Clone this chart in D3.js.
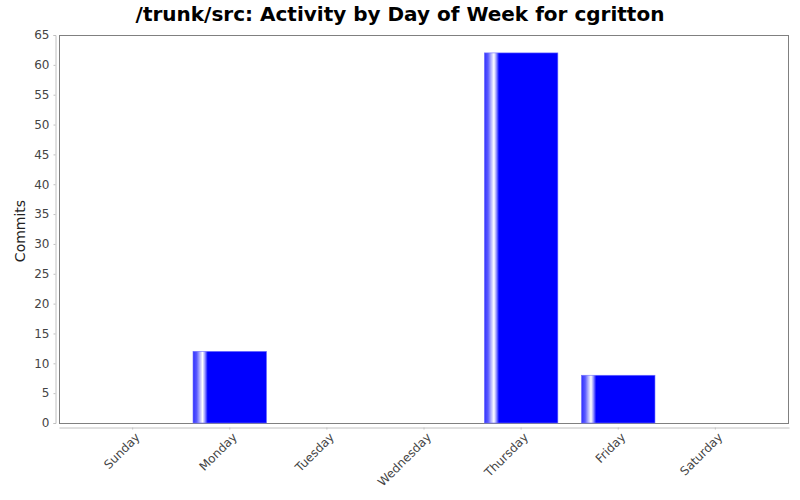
<!DOCTYPE html>
<html>
<head>
<meta charset="utf-8">
<script src="https://cdn.jsdelivr.net/npm/d3@7"></script>
<style>
  body { margin: 0; background: #fff; }
  svg { display: block; }
</style>
</head>
<body>
<script>
const days = ["Sunday", "Monday", "Tuesday", "Wednesday", "Thursday", "Friday", "Saturday"]
const commits = [0, 12, 0, 0, 62, 8, 0]
const yTicks = [0, 5, 10, 15, 20, 25, 30, 35, 40, 45, 50, 55, 60, 65]

const w = 800
const h = 500
const plot = { left: 59, right: 789, top: 35, bottom: 423 }

const svg = d3.select("body")
  .append("svg")
  .attr("width", w)
  .attr("height", h)

// gradient like the java chart bars
const grad = svg.append("defs")
  .append("linearGradient")
  .attr("id", "barGrad")
  .attr("x1", "0%").attr("x2", "100%")
  .attr("y1", "0%").attr("y2", "0%")
const stops = [[0, "#3030ff"], [0.05, "#5a5aff"], [0.09, "#b0b0ff"], [0.13, "#ffffff"], [0.16, "#a0a0ff"], [0.2, "#0000ff"], [1, "#0000ff"]]
stops.forEach(s => grad.append("stop").attr("offset", s[0]).attr("stop-color", s[1]))

// title
svg.append("text")
  .attr("x", 400)
  .attr("y", 21)
  .attr("text-anchor", "middle")
  .style("font-family", "DejaVu Sans")
  .style("font-weight", "bold")
  .style("font-size", "20px")
  .text("/trunk/src: Activity by Day of Week for cgritton")

// scales
const x = d3.scaleBand()
  .domain(days)
  .range([plot.left, plot.right])
  .paddingInner(0.243)
  .paddingOuter(0.38)

const y = d3.scaleLinear()
  .domain([0, 65])
  .range([plot.bottom, plot.top])

// plot border
svg.append("rect")
  .attr("x", plot.left + 0.5)
  .attr("y", plot.top + 0.5)
  .attr("width", plot.right - plot.left - 1)
  .attr("height", plot.bottom - plot.top)
  .attr("fill", "#fff")
  .attr("stroke", "#808080")
  .attr("stroke-width", 1)

// bars
svg.selectAll("rect.bar")
  .data(days.map((d, i) => ({ day: d, value: commits[i] })).filter(d => d.value > 0))
  .enter()
  .append("rect")
  .attr("class", "bar")
  .attr("x", d => x(d.day))
  .attr("y", d => y(d.value))
  .attr("width", x.bandwidth())
  .attr("height", d => y(0) - y(d.value))
  .attr("fill", "url(#barGrad)")
  .attr("stroke", "#7070ff")
  .attr("stroke-width", 0.6)

// y axis
const yAxis = d3.axisLeft(y).tickValues(yTicks).tickSize(2).tickPadding(4)
const gy = svg.append("g")
  .attr("transform", "translate(55.5,0)")
  .call(yAxis)
gy.select(".domain").attr("stroke", "#c0c0c0")
gy.selectAll(".tick line").attr("stroke", "#c0c0c0")
gy.selectAll(".tick text")
  .style("font-family", "DejaVu Sans")
  .style("font-size", "12px")
  .attr("fill", "#444")

// x axis
const xAxis = d3.axisBottom(x).tickSize(2).tickSizeOuter(0).tickFormat("")
const gx = svg.append("g")
  .attr("transform", "translate(0,427.5)")
  .call(xAxis)
gx.select(".domain").attr("stroke", "#c0c0c0")
gx.selectAll(".tick line").attr("stroke", "#c0c0c0")

svg.append("g")
  .selectAll("text")
  .data(days)
  .enter()
  .append("text")
  .attr("transform", d => `translate(${x(d) + x.bandwidth() / 2 + 5},${435}) rotate(-45)`)
  .attr("text-anchor", "end")
  .attr("dy", "0.35em")
  .style("font-family", "DejaVu Sans")
  .style("font-size", "12px")
  .attr("fill", "#444")
  .text(d => d)

// y label
svg.append("text")
  .attr("transform", "translate(25,231) rotate(-90)")
  .attr("text-anchor", "middle")
  .style("font-family", "DejaVu Sans")
  .style("font-size", "14px")
  .attr("fill", "#222")
  .text("Commits")
</script>
</body>
</html>
